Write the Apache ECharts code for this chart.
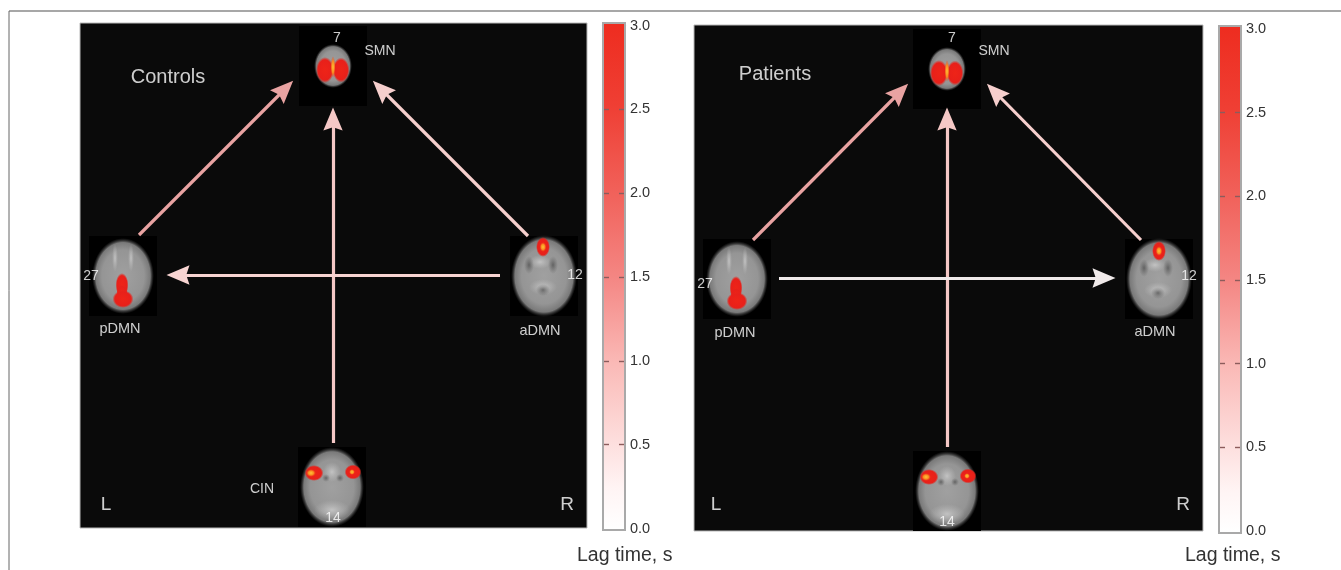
<!DOCTYPE html>
<html><head><meta charset="utf-8">
<style>html,body{margin:0;padding:0;background:#fff}#c{width:1341px;height:570px}</style>
<script src="https://cdn.jsdelivr.net/npm/echarts@6/dist/echarts.min.js"></script></head>
<body><div id="c"></div>
<script>
const lagMax = 3;
const innerTicks = [0.5, 1, 1.5, 2, 2.5];

// [x, y, half-width, half-height] of each brain slice
const brainsLeft  = [[333,66,17,20],[123,276,29,36],[544,276,31,39],[332,487,30,38]];
const brainsRight = [[947,69,17,20],[737,279,29,36],[1159,279,31,39],[947,491,30,38]];

// [x, y, half-width, half-height, kind]  kind: 0 red, 1 hot, 2 dark, 3 light
const spotsLeft = [
 [325,70,9,13,0],[341,70,8.5,12.5,0],[333,67,2.5,11,1],
 [122,285,6.5,12,0],[122,292,5.5,7,0],[123,299,10.5,9,0],
 [131,258,3,14,3],[115,258,3,14,3],
 [540,262,11,7,3],[529,265,5,9,2],[553,265,5,9,2],[543,287,14,8,3],[543,290,7,6,2],
 [543,247,7,10,0],[543,247,3.5,5,1],
 [314,473,9.5,8,0],[311,473,5,4,1],[353,472,8.5,7.5,0],[352,472,3,3,1],
 [332,472,9,10,3],[326,478,4,4,2],[340,478,4,4,2],[332,510,18,10,3]
];
const spotsRight = [
 [939,73,9,13,0],[955,73,8.5,12.5,0],[947,71,2.5,11,1],
 [736,288,6.5,12,0],[736,295,5.5,7,0],[737,301,10.5,9,0],
 [745,261,3,14,3],[729,261,3,14,3],
 [1155,265,11,7,3],[1144,268,5,9,2],[1168,268,5,9,2],[1158,290,14,8,3],[1158,293,7,6,2],
 [1159,251,7,10,0],[1159,251,3.5,5,1],
 [929,477,9.5,8,0],[926,477,5,4,1],[968,476,8.5,7.5,0],[967,476,3,3,1],
 [947,476,9,10,3],[941,482,4,4,2],[955,482,4,4,2],[947,514,18,10,3]
];

// [x1, y1, x2, y2, colour]  x2,y2 is the middle of the arrow head
const arrowsLeft = [
 [139,235,285,89,'#e9a3a2'],
 [528,236,381,89,'#f6cfcd'],
 [333,443,333,119,'#f5c8c6'],
 [500,275,178,275,'#f8d4d2']
];
const arrowsRight = [
 [753,240,900,92,'#e9a3a2'],
 [1141,240,995,92,'#f6cfcd'],
 [947,447,947,119,'#f5c8c6'],
 [779,278,1104,278,'#f0eaea']
];

// [x, y, text, size]
const labelsLeft = [
 [168,77,'Controls',20],[106,505,'L',19],[567,505,'R',19],
 [337,38,'7',14],[380,51,'SMN',14],[91,276,'27',14],[575,275,'12',14],
 [120,329,'pDMN',14.5],[540,331,'aDMN',14.5],[262,489,'CIN',14],[333,518,'14',14]
];
const labelsRight = [
 [775,74,'Patients',20],[716,505,'L',19],[1183,505,'R',19],
 [952,38,'7',14],[994,51,'SMN',14],[705,284,'27',14],[1189,276,'12',14],
 [735,333,'pDMN',14.5],[1155,332,'aDMN',14.5],[947,522,'14',14]
];

const FONT = '"Liberation Sans", Arial, sans-serif';
const G = echarts.graphic;
const HEAD = 'path://M50 0L92 100L50 86L8 100ZM0 100L0 100M100 100L100 100';

function softEllipse(cx, cy, rx, ry, stops) {
  return {type:'circle', x:cx, y:cy, scaleX:rx/ry, scaleY:1, shape:{cx:0,cy:0,r:ry},
    style:{fill:new G.RadialGradient(0.5,0.5,0.5,stops)}};
}
function renderBrain(p, api) {
  const c = api.coord([api.value(0), api.value(1)]);
  const rx = api.value(2), ry = api.value(3);
  return {type:'group', children:[
    {type:'rect', shape:{x:c[0]-34,y:c[1]-40,width:68,height:80}, style:{fill:'#000'}},
    softEllipse(c[0],c[1],rx+2,ry+2,[
       {offset:0,color:'#a0a0a0'},{offset:0.68,color:'#959595'},
       {offset:0.88,color:'#7a7a7a'},{offset:1,color:'rgba(60,60,60,0)'}])
  ]};
}
const kinds = [
 [{offset:0,color:'#ee2418'},{offset:0.78,color:'#e8201a'},{offset:1,color:'rgba(225,40,30,0)'}],
 [{offset:0,color:'#ffc23a'},{offset:0.55,color:'#f88a20'},{offset:1,color:'rgba(240,60,25,0)'}],
 [{offset:0,color:'rgba(75,75,75,0.7)'},{offset:1,color:'rgba(90,90,90,0)'}],
 [{offset:0,color:'rgba(205,205,205,0.8)'},{offset:1,color:'rgba(190,190,190,0)'}]
];
function renderSpot(p, api) {
  const c = api.coord([api.value(0), api.value(1)]);
  return softEllipse(c[0],c[1],api.value(2),api.value(3),kinds[api.value(4)]);
}
function panelSeries(i, brains, spots, arrows, labels) {
  return [
    {type:'custom', name:'brains', xAxisIndex:i, yAxisIndex:i, coordinateSystem:'cartesian2d',
     data:brains, renderItem:renderBrain, silent:true, z:2, clip:false},
    {type:'custom', name:'spots', xAxisIndex:i, yAxisIndex:i, coordinateSystem:'cartesian2d',
     data:spots, renderItem:renderSpot, silent:true, z:3, clip:false},
    {type:'lines', name:'lags', coordinateSystem:'cartesian2d', xAxisIndex:i, yAxisIndex:i,
     symbol:['none',HEAD], symbolSize:[0,23], z:4, silent:true,
     data:arrows.map(a=>({coords:[[a[0],a[1]],[a[2],a[3]]],lineStyle:{color:a[4],width:3.2,opacity:1,curveness:0}}))},
    {type:'scatter', name:'labels', xAxisIndex:i, yAxisIndex:i, symbolSize:0, z:5, silent:true,
     data:labels.map(l=>({value:[l[0],l[1]],
       label:{show:true,position:'inside',formatter:l[2],color:'#fff',fontSize:l[3],fontFamily:FONT}}))}
  ];
}
function bar(gridIdx, yIdx) {
  return {type:'bar', name:'lag scale', xAxisIndex:gridIdx, yAxisIndex:yIdx, data:[lagMax], barWidth:'100%', z:2, silent:true,
    itemStyle:{color:new G.LinearGradient(0,1,0,0,[
      {offset:0,color:'#ffffff'},{offset:0.08,color:'#fff4f4'},{offset:0.33,color:'#fab9b6'},
      {offset:0.5,color:'#f48683'},{offset:0.66,color:'#f1635c'},{offset:0.84,color:'#ef3f34'},{offset:1,color:'#ee2d20'}])}};
}
const hiddenX = (min,max,g)=>({type:'value',gridIndex:g,min,max,show:false});
const hiddenY = (min,max,g)=>({type:'value',gridIndex:g,min,max,inverse:true,show:false});
const catX = g=>({type:'category',gridIndex:g,data:['lag'],show:false});
const scaleY = (g,pos,showLab)=>({type:'value',gridIndex:g,position:pos,min:0,max:lagMax,interval:0.5,z:6,
   axisLine:{show:true,onZero:false,lineStyle:{color:'#a9a9a9',width:2}},
   axisTick:{show:true,inside:true,length:6,customValues:innerTicks,lineStyle:{color:'#8c5c5c',width:1.4}},
   splitLine:{show:false},
   axisLabel:{show:showLab,color:'#333',fontSize:14.5,fontFamily:FONT,margin:5,
     formatter:v=>v.toFixed(1)}});

const option = {
  animation:false, backgroundColor:'#fff',
  grid:[
    {left:80,top:23,width:507,height:505,show:true,backgroundColor:'#0a0a0a',borderColor:'#b8b8b8',borderWidth:1},
    {left:694,top:25,width:509,height:506,show:true,backgroundColor:'#0a0a0a',borderColor:'#b8b8b8',borderWidth:1},
    {left:603,top:25.5,width:22,height:503},
    {left:1219,top:29,width:22,height:502}
  ],
  xAxis:[hiddenX(80,587,0),hiddenX(694,1203,1),catX(2),catX(3)],
  yAxis:[hiddenY(23,528,0),hiddenY(25,531,1),
    scaleY(2,'right',true),scaleY(2,'left',false),scaleY(3,'right',true),scaleY(3,'left',false)],
  title:[
    {text:'Lag time, s',left:577,top:546,padding:0,textStyle:{color:'#333',fontSize:19.5,fontWeight:'normal',fontFamily:FONT}},
    {text:'Lag time, s',left:1185,top:546,padding:0,textStyle:{color:'#333',fontSize:19.5,fontWeight:'normal',fontFamily:FONT}}
  ],
  graphic:[
    {type:'line',shape:{x1:9,y1:11,x2:1341,y2:11},style:{stroke:'#8a8a8a',lineWidth:1.5},z:0,silent:true},
    {type:'line',shape:{x1:9,y1:11,x2:9,y2:570},style:{stroke:'#666',lineWidth:1},z:0,silent:true},
    {type:'rect',shape:{x:603,y:23,width:22,height:3},style:{fill:'#ee2d20'},z:9,silent:true},
    {type:'rect',shape:{x:1219,y:26,width:22,height:3.5},style:{fill:'#ee2d20'},z:9,silent:true},
    {type:'rect',shape:{x:603,y:23,width:22,height:507},style:{fill:'none',stroke:'#a9a9a9',lineWidth:2},z:10,silent:true},
    {type:'rect',shape:{x:1219,y:26,width:22,height:507},style:{fill:'none',stroke:'#a9a9a9',lineWidth:2},z:10,silent:true}
  ],
  series:[
    ...panelSeries(0,brainsLeft,spotsLeft,arrowsLeft,labelsLeft),
    ...panelSeries(1,brainsRight,spotsRight,arrowsRight,labelsRight),
    bar(2,2), bar(3,4)
  ]
};
echarts.init(document.getElementById('c')).setOption(option);
</script></body></html>
